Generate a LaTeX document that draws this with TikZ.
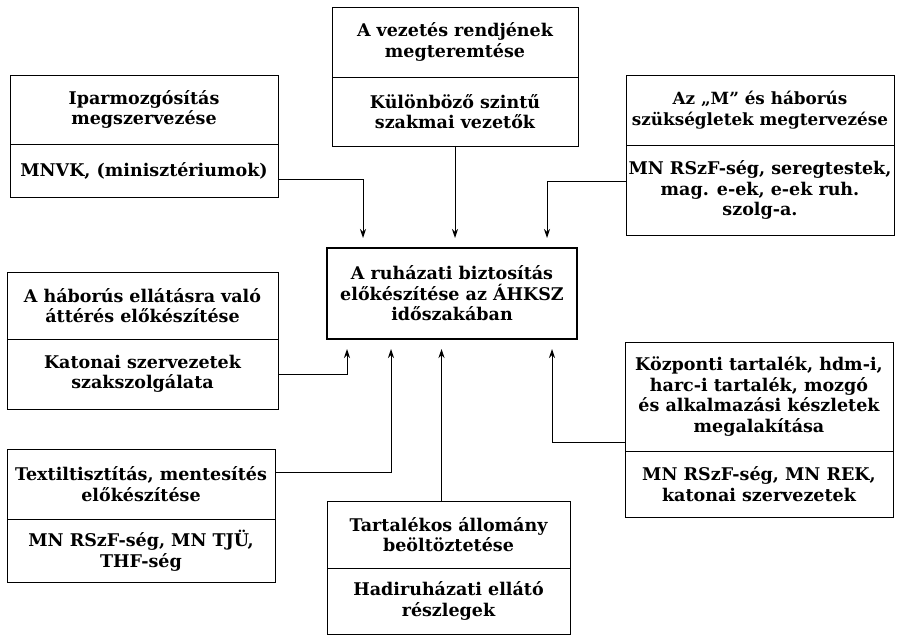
\documentclass[tikz,border=0pt]{standalone}
\usepackage{fontspec}
\setmainfont{DejaVu Serif}
\usetikzlibrary{positioning,arrows.meta}

\begin{document}
\begin{tikzpicture}[x=1pt,y=-1pt,>={Stealth[length=9pt,width=6pt]},
    box/.style={draw,line width=0.9pt,outer sep=0pt,inner xsep=1pt,inner ysep=2pt,align=center,font=\bfseries\fontsize{17.5}{20.5}\selectfont},
    main box/.style={box,line width=2.6pt},
    narrow/.style={font=\bfseries\fontsize{16.8}{20.5}\selectfont},
    link/.style={->,line width=1pt,shorten >=10pt}]
    \useasboundingbox (0,0) rectangle (897,636);

    \node[main box,minimum width=250pt,minimum height=91pt] (main) at (452,293.5) {A ruházati biztosítás\\előkészítése az ÁHKSZ\\időszakában};

    \node[box,minimum width=246pt,minimum height=70pt] (tcA) at (455,42) {A vezetés rendjének\\megteremtése};
    \node[box,minimum width=246pt,minimum height=69pt,below=0pt of tcA] (tcB) {Különböző szintű\\szakmai vezetők};

    \node[box,minimum width=268pt,minimum height=69pt] (tlA) at (144,109.5) {Iparmozgósítás\\megszervezése};
    \node[box,minimum width=268pt,minimum height=53pt,below=0pt of tlA] (tlB) {MNVK, (minisztériumok)};

    \node[box,narrow,minimum width=268pt,minimum height=70pt] (trA) at (760,110) {Az „M” és háborús\\szükségletek megtervezése};
    \node[box,minimum width=268pt,minimum height=90pt,below=0pt of trA] (trB) {MN RSzF-ség, seregtestek,\\mag. e-ek, e-ek ruh.\\szolg-a.};

    \node[box,minimum width=271pt,minimum height=67pt] (lmA) at (142.5,305.5) {A háborús ellátásra való\\áttérés előkészítése};
    \node[box,minimum width=271pt,minimum height=70pt,below=0pt of lmA] (lmB) {Katonai szervezetek\\szakszolgálata};

    \node[box,minimum width=268pt,minimum height=70pt] (blA) at (141,484) {Textiltisztítás, mentesítés\\előkészítése};
    \node[box,minimum width=268pt,minimum height=63pt,below=0pt of blA] (blB) {MN RSzF-ség, MN TJÜ,\\THF-ség};

    \node[box,minimum width=243pt,minimum height=67pt] (bcA) at (448.5,534.5) {Tartalékos állomány\\beöltöztetése};
    \node[box,minimum width=243pt,minimum height=66pt,below=0pt of bcA] (bcB) {Hadiruházati ellátó\\részlegek};

    \node[box,minimum width=268pt,minimum height=109pt] (brA) at (759,396.5) {Központi tartalék, hdm-i,\\harc-i tartalék, mozgó\\és alkalmazási készletek\\megalakítása};
    \node[box,minimum width=268pt,minimum height=66pt,below=0pt of brA] (brB) {MN RSzF-ség, MN REK,\\katonai szervezetek};

    % inputs from above
    \draw[link] ([yshift=-9.5pt]tlB.east) -| ([xshift=36pt]main.north west);
    \draw[link] (tcB.south) -- (tcB.south |- main.north);
    \draw[link] ([yshift=8pt]trB.west) -| ([xshift=-30pt]main.north east);

    % inputs from below
    \draw[link] (lmB.east) -| ([xshift=20pt]main.south west);
    \draw[link] ([yshift=12pt]blA.east) -| ([xshift=64pt]main.south west);
    \draw[link] ([xshift=-7pt]bcA.north) -- ([xshift=-7pt]bcA.north |- main.south);
    \draw[link] ([yshift=-45.5pt]brA.west) -| ([xshift=-25pt]main.south east);
\end{tikzpicture}
\end{document}
